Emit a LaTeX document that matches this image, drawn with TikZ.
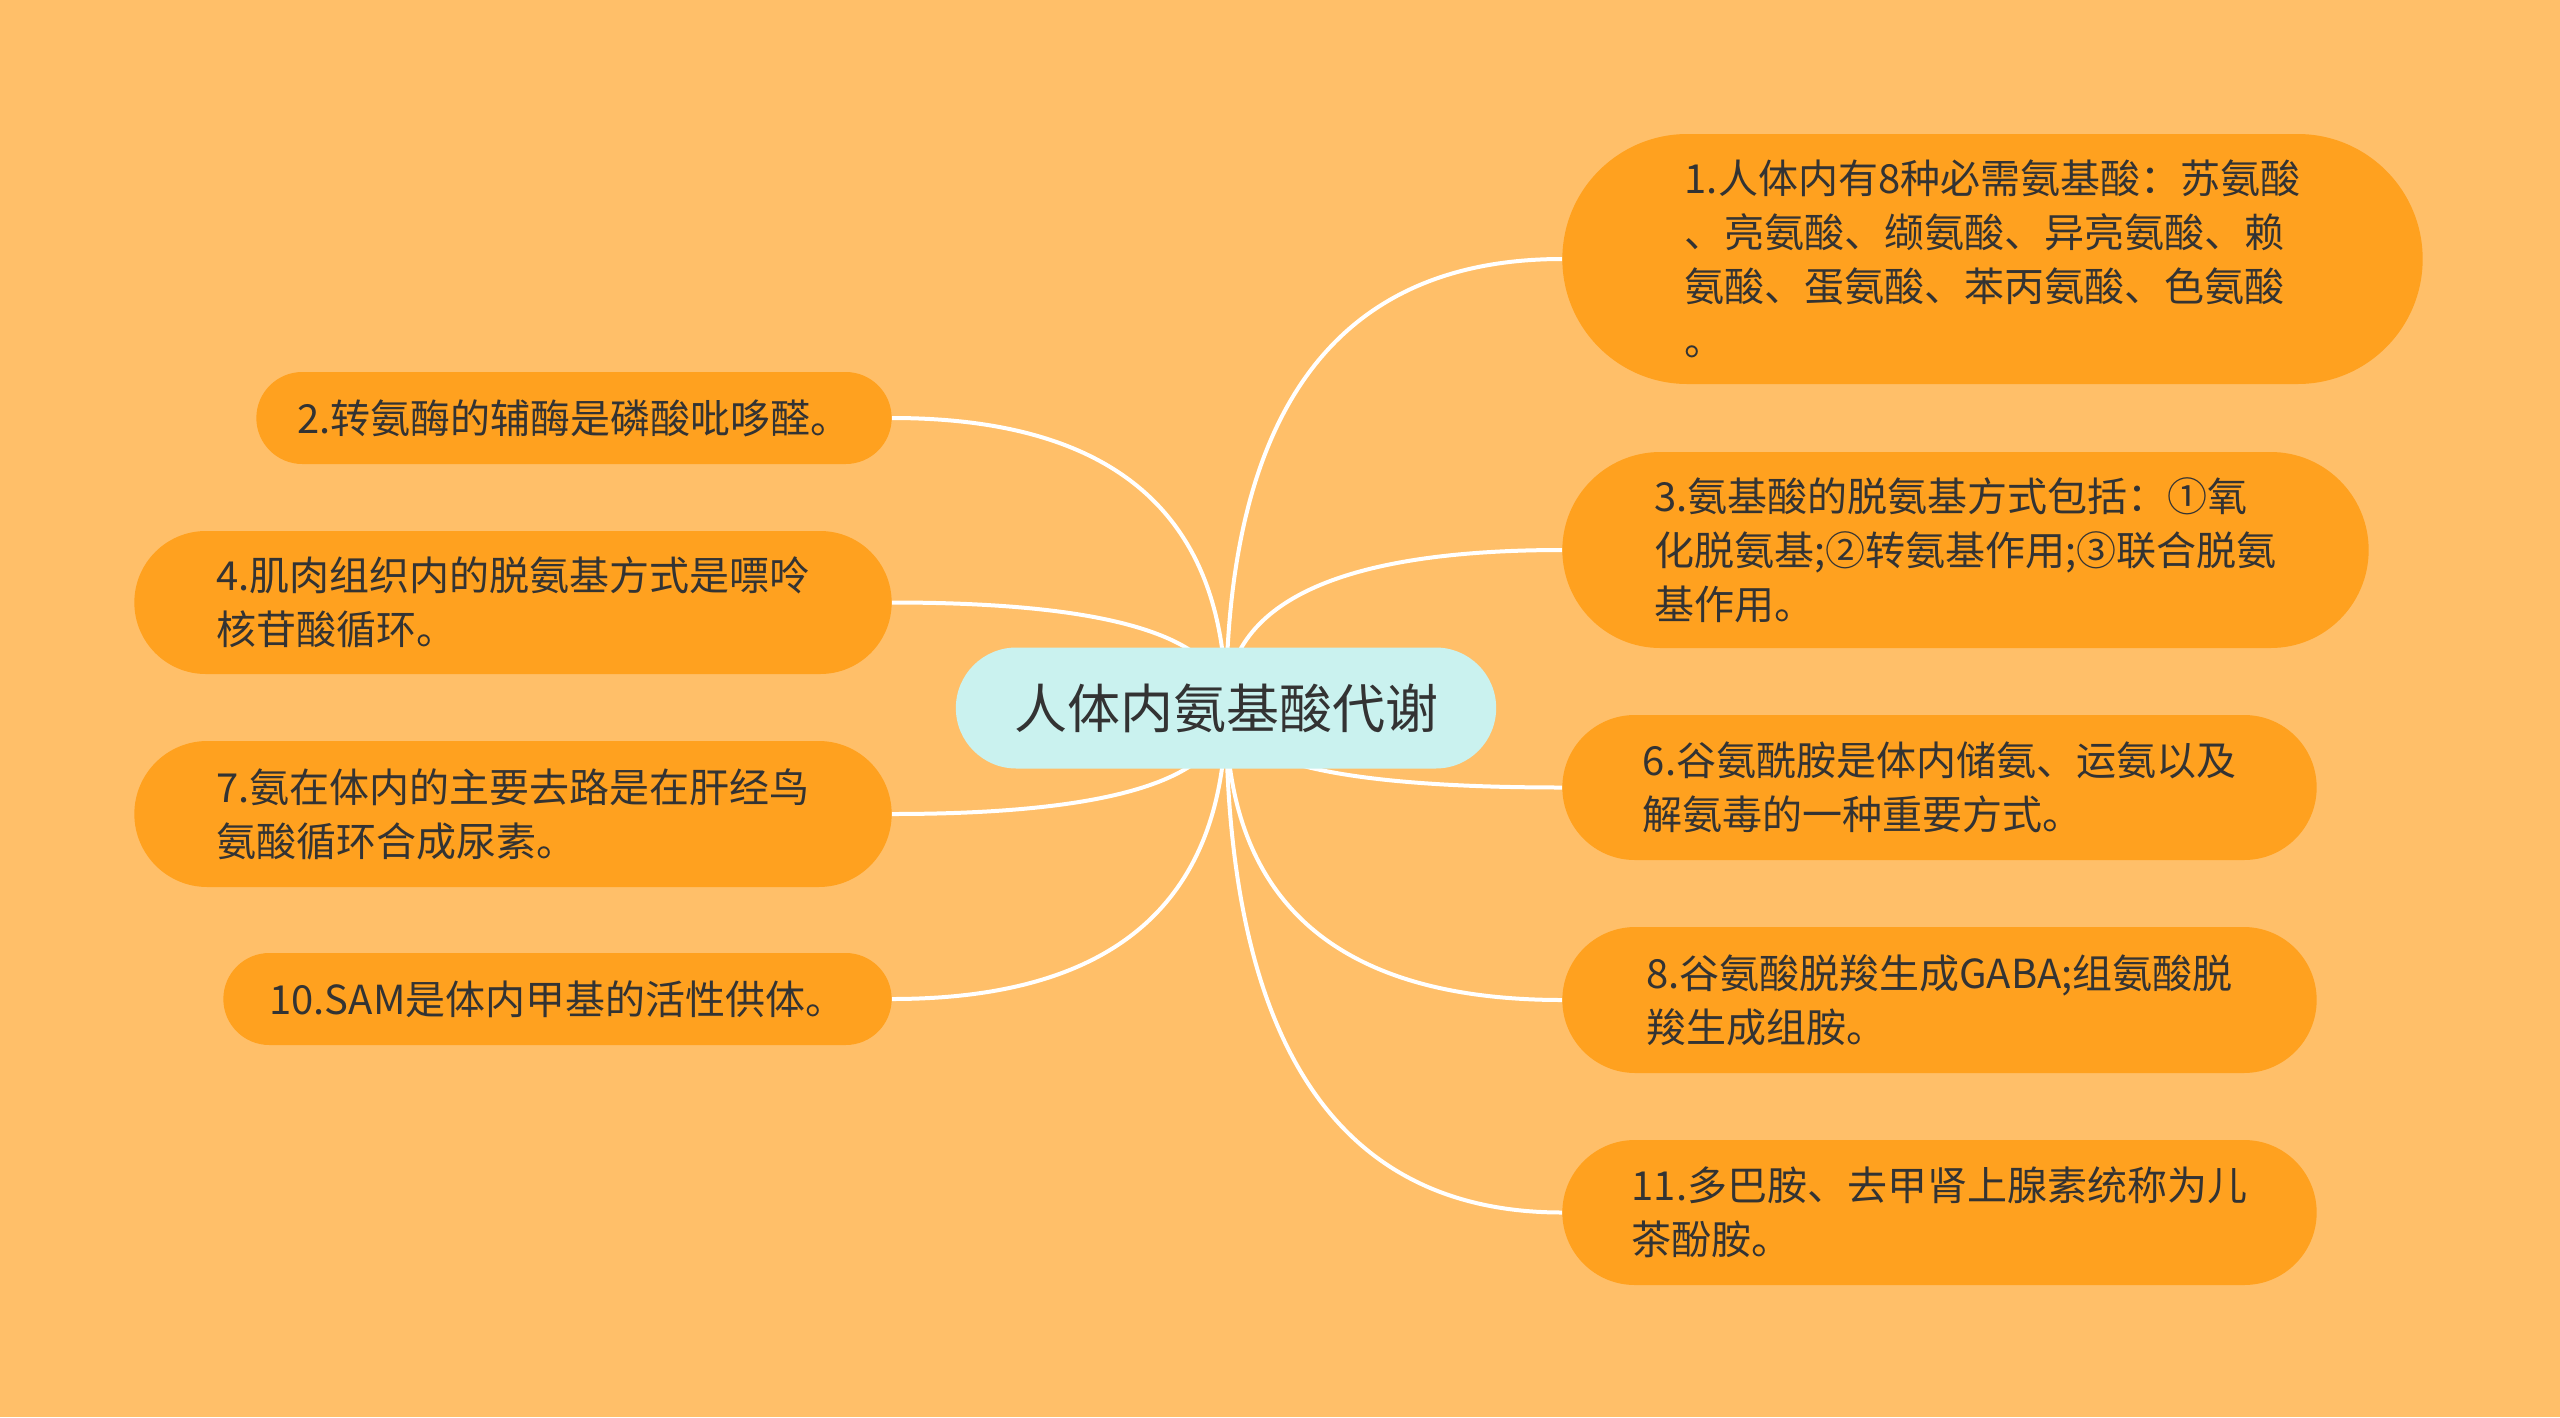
\documentclass[tikz,border=0pt]{standalone}
\usepackage{fontspec}
\setmainfont{Noto Sans CJK SC}
\usepackage{tikz}
\usetikzlibrary{shapes.misc,calc}

\definecolor{bgcol}{HTML}{FFBF69}
\definecolor{leafcol}{HTML}{FFA11F}
\definecolor{rootcol}{HTML}{CAF2EF}
\definecolor{txtcol}{HTML}{333333}

\pgfdeclarelayer{back}
\pgfsetlayers{back,main}

% curve from the root to one side of a leaf
\newcommand{\branch}[1]{\draw[link] (root.center) .. controls ($(root.center)!0.667!(root.center |- #1)$) and ($(#1)!0.667!(root.center |- #1)$) .. (#1);}

\begin{document}
\begin{tikzpicture}[x=1pt, y=-1pt,
    leaf/.style={rounded rectangle, fill=leafcol, text=txtcol, align=left,
      font=\fontsize{40}{54}\selectfont},
    root/.style={rounded rectangle, fill=rootcol, text=txtcol,
      font=\fontsize{53}{60}\selectfont},
    link/.style={white, line width=4pt}]
  \useasboundingbox (0,0) rectangle (2560,1417);

  % Root:
  \node[root, minimum width=547, minimum height=121] (root) at (1226,708) {人体内氨基酸代谢};

  % Right side:
  \node[leaf, minimum width=867, minimum height=250] (n1) at (1992.5,259)
    {1.人体内有8种必需氨基酸：苏氨酸\\、亮氨酸、缬氨酸、异亮氨酸、赖\\氨酸、蛋氨酸、苯丙氨酸、色氨酸\\。};
  \node[leaf, minimum width=813, minimum height=196] (n3) at (1965.5,550)
    {3.氨基酸的脱氨基方式包括：①氧\\化脱氨基;②转氨基作用;③联合脱氨\\基作用。};
  \node[leaf, minimum width=761, minimum height=145] (n6) at (1939.5,787.5)
    {6.谷氨酰胺是体内储氨、运氨以及\\解氨毒的一种重要方式。};
  \node[leaf, minimum width=761, minimum height=146] (n8) at (1939.5,1000)
    {8.谷氨酸脱羧生成GABA;组氨酸脱\\羧生成组胺。};
  \node[leaf, minimum width=761, minimum height=145] (n11) at (1939.5,1212.5)
    {11.多巴胺、去甲肾上腺素统称为儿\\茶酚胺。};

  % Left side:
  \node[leaf, minimum width=642, minimum height=92] (n2) at (574,418)
    {2.转氨酶的辅酶是磷酸吡哆醛。};
  \node[leaf, minimum width=764, minimum height=143] (n4) at (513,602.5)
    {4.肌肉组织内的脱氨基方式是嘌呤\\核苷酸循环。};
  \node[leaf, minimum width=764, minimum height=146] (n7) at (513,814)
    {7.氨在体内的主要去路是在肝经鸟\\氨酸循环合成尿素。};
  \node[leaf, minimum width=675, minimum height=92] (n10) at (557.5,999)
    {10.SAM是体内甲基的活性供体。};

  \begin{pgfonlayer}{back}
    \fill[bgcol] (0,0) rectangle (2560,1417);
    \foreach \n in {n1,n3,n6,n8,n11} {\branch{\n.west}}
    \foreach \n in {n2,n4,n7,n10} {\branch{\n.east}}
  \end{pgfonlayer}
\end{tikzpicture}
\end{document}
